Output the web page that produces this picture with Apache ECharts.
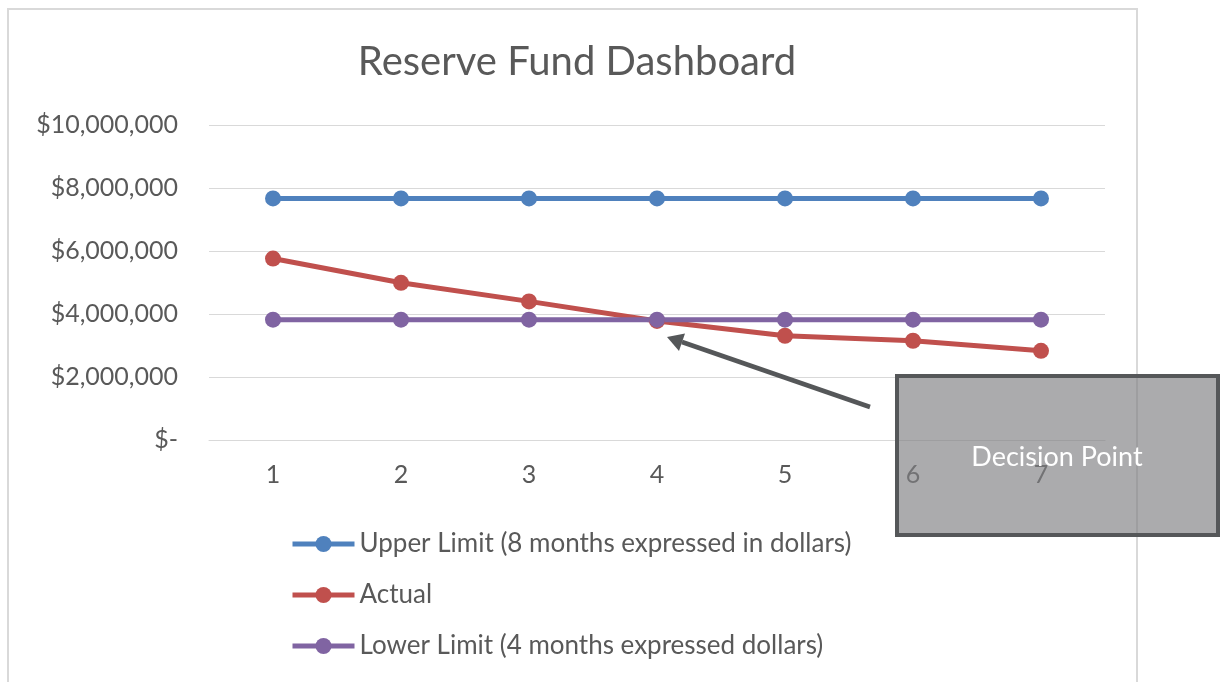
<!DOCTYPE html>
<html>
<head>
<meta charset="utf-8">
<title>Reserve Fund Dashboard</title>
<script src="https://cdn.jsdelivr.net/npm/echarts@6/dist/echarts.min.js"></script>
<style>
  html, body { margin: 0; padding: 0; background: #fff; }
  #main { width: 1220px; height: 682px; }
</style>
</head>
<body>
<div id="main"></div>
<script>
// data
const periods = ['1', '2', '3', '4', '5', '6', '7']
const upperLimit = [7670000, 7670000, 7670000, 7670000, 7670000, 7670000, 7670000]
const actual = [5760000, 4990000, 4400000, 3780000, 3310000, 3150000, 2830000]
const lowerLimit = [3820000, 3820000, 3820000, 3820000, 3820000, 3820000, 3820000]
const seriesNames = [
  'Upper Limit (8 months expressed in dollars)',
  'Actual',
  'Lower Limit (4 months expressed dollars)'
]

const font = 'Lato, "Open Sans", sans-serif'
const grey = '#595959'

function dollars(v) {
  if (v === 0) return '$-'
  return '$' + v.toLocaleString('en-US')
}

function lineSeries(name, data, color) {
  return {
    name: name,
    type: 'line',
    data: data,
    symbol: 'circle',
    symbolSize: 16,
    lineStyle: { width: 5, color: color },
    itemStyle: { color: color },
    emphasis: { disabled: true }
  }
}

const myChart = echarts.init(document.getElementById('main'))
const option = {
  animation: false,
  textStyle: { fontFamily: font },
  title: {
    text: 'Reserve Fund Dashboard',
    left: 572,
    textAlign: 'center',
    top: 37,
    textStyle: { fontFamily: font, fontSize: 40, fontWeight: 'normal', color: grey }
  },
  grid: { left: 209, right: 115, top: 125, bottom: 242 },
  xAxis: {
    type: 'category',
    data: periods,
    axisLine: { lineStyle: { color: '#d9d9d9' } },
    axisTick: { show: false },
    axisLabel: { fontSize: 25, color: grey, margin: 22, fontFamily: font }
  },
  yAxis: {
    type: 'value',
    min: 0,
    max: 10000000,
    interval: 2000000,
    axisLine: { show: false },
    axisTick: { show: false },
    splitLine: { lineStyle: { color: '#d9d9d9', width: 1 } },
    axisLabel: { fontSize: 25, color: grey, margin: 31, fontFamily: font, formatter: dollars }
  },
  legend: {
    orient: 'vertical',
    left: 285,
    top: 524,
    itemWidth: 62,
    itemHeight: 20,
    itemGap: 21,
    selectedMode: false,
    lineStyle: { width: 5 },
    textStyle: { fontSize: 26, color: grey, lineHeight: 30, fontFamily: font },
    data: seriesNames
  },
  series: [
    lineSeries(seriesNames[0], upperLimit, '#4f81bd'),
    lineSeries(seriesNames[1], actual, '#c0504d'),
    lineSeries(seriesNames[2], lowerLimit, '#8064a2')
  ],
  graphic: [
    // chart frame
    {
      type: 'rect',
      z: -10,
      silent: true,
      shape: { x: 8, y: 9, width: 1129, height: 720 },
      style: { fill: 'none', stroke: '#d9d9d9', lineWidth: 2 }
    },
    // arrow pointing at the crossing
    {
      type: 'line',
      z: 100,
      silent: true,
      shape: { x1: 870, y1: 407, x2: 682, y2: 342 },
      style: { stroke: '#555759', lineWidth: 4.5 }
    },
    {
      type: 'polygon',
      z: 100,
      silent: true,
      shape: { points: [[667, 337], [685, 333.5], [679, 351]] },
      style: { fill: '#555759' }
    },
    // callout box
    {
      type: 'rect',
      z: 100,
      silent: true,
      shape: { x: 897, y: 376, width: 321, height: 159 },
      style: { fill: 'rgba(128,128,130,0.66)', stroke: '#555759', lineWidth: 4 }
    },
    {
      type: 'text',
      z: 101,
      silent: true,
      x: 1057,
      y: 457,
      style: {
        text: 'Decision Point',
        fill: '#fff',
        fontSize: 27,
        fontFamily: font,
        align: 'center',
        verticalAlign: 'middle'
      }
    }
  ]
}
option && myChart.setOption(option)
</script>
</body>
</html>
